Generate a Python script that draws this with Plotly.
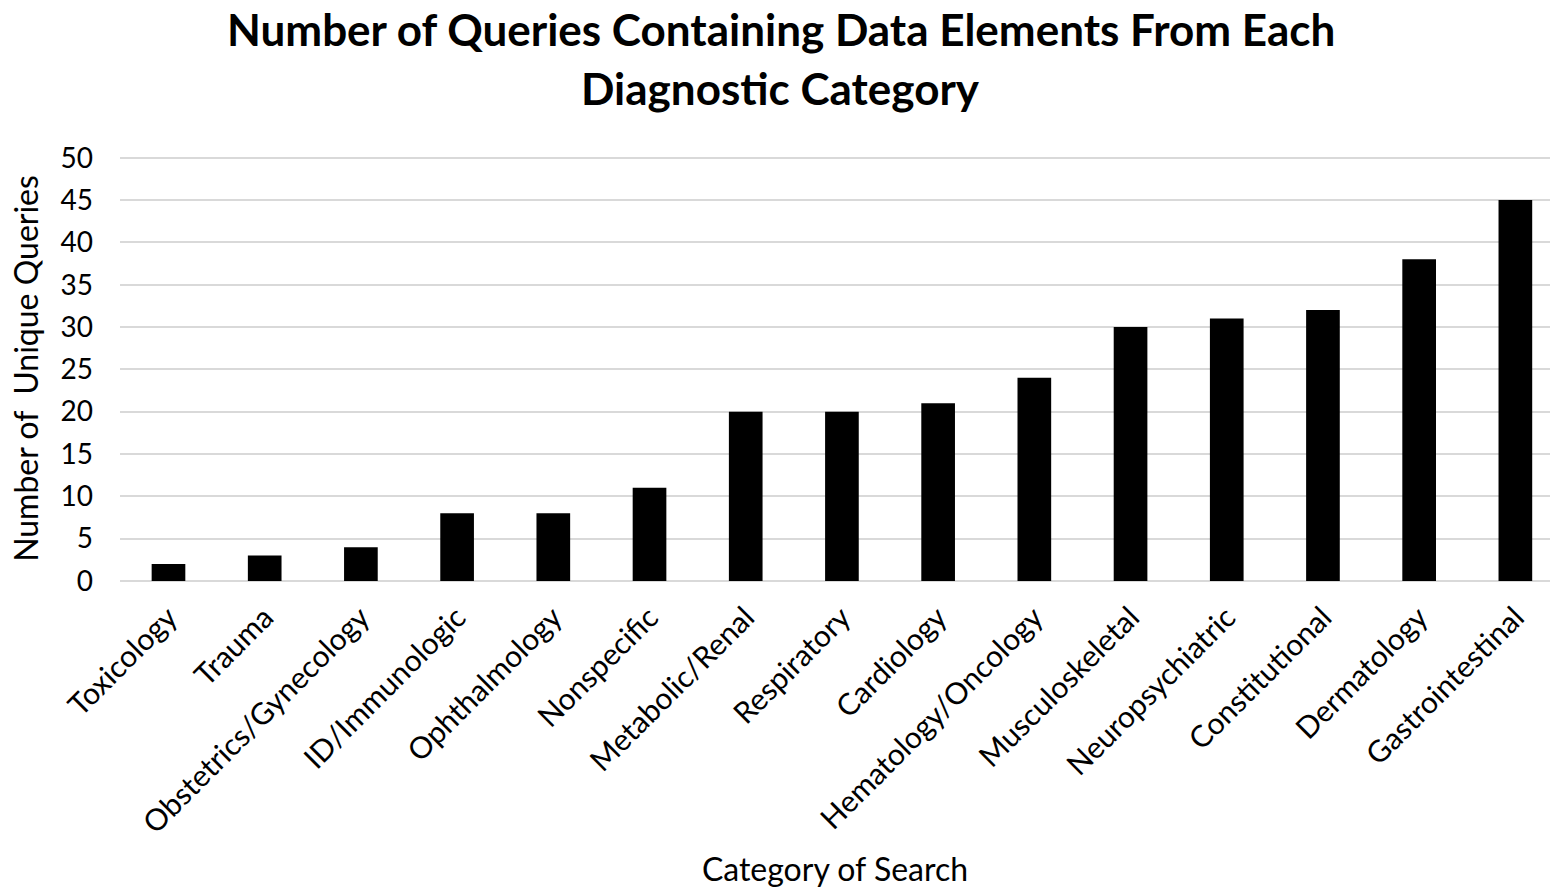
import plotly.graph_objects as go

categories = ["Toxicology", "Trauma", "Obstetrics/Gynecology", "ID/Immunologic",
              "Ophthalmology", "Nonspecific", "Metabolic/Renal", "Respiratory",
              "Cardiology", "Hematology/Oncology", "Musculoskeletal", "Neuropsychiatric",
              "Constitutional", "Dermatology", "Gastrointestinal"]
values = [2, 3, 4, 8, 8, 11, 20, 20, 21, 24, 30, 31, 32, 38, 45]
y_ticks = [0, 5, 10, 15, 20, 25, 30, 35, 40, 45, 50]

FONT = "Lato"

fig = go.Figure(go.Bar(x=categories, y=values, marker=dict(color="black", line=dict(width=0)),
                       width=0.35))

fig.update_layout(
    width=1550, height=888,
    paper_bgcolor="white", plot_bgcolor="white",
    margin=dict(l=120, r=0, t=156, b=307),
    font=dict(family=FONT, color="black"),
    showlegend=False,
    annotations=[
        dict(text="<b>Number of Queries Containing Data Elements From Each</b>",
             x=0.462, y=1.2997, xref="paper", yref="paper", xanchor="center", yanchor="middle",
             showarrow=False, font=dict(size=44, family=FONT, color="black")),
        dict(text="<b>Diagnostic Category</b>",
             x=0.462, y=1.1608, xref="paper", yref="paper", xanchor="center", yanchor="middle",
             showarrow=False, font=dict(size=44, family=FONT, color="black")),
    ],
)
fig.update_xaxes(tickangle=-45, tickfont=dict(size=30, family=FONT), showgrid=False,
                 range=[-0.504, 14.36],
                 showline=False, ticks="", ticklabelstandoff=12, automargin=False,
                 title=dict(text="Category of Search", font=dict(size=32, family=FONT), standoff=20))
fig.update_yaxes(range=[0, 50.2], tickvals=y_ticks, tickfont=dict(size=28, family=FONT),
                 showgrid=True, gridcolor="#d9d9d9", gridwidth=2, zeroline=True,
                 zerolinecolor="#d9d9d9", zerolinewidth=2, showline=False, ticks="",
                 ticklabelstandoff=26, automargin=False,
                 title=dict(text="Number of  Unique Queries", font=dict(size=32, family=FONT), standoff=12))

fig.write_html("out.html", config={"displayModeBar": False},
               post_script="document.body.style.margin='0';")
